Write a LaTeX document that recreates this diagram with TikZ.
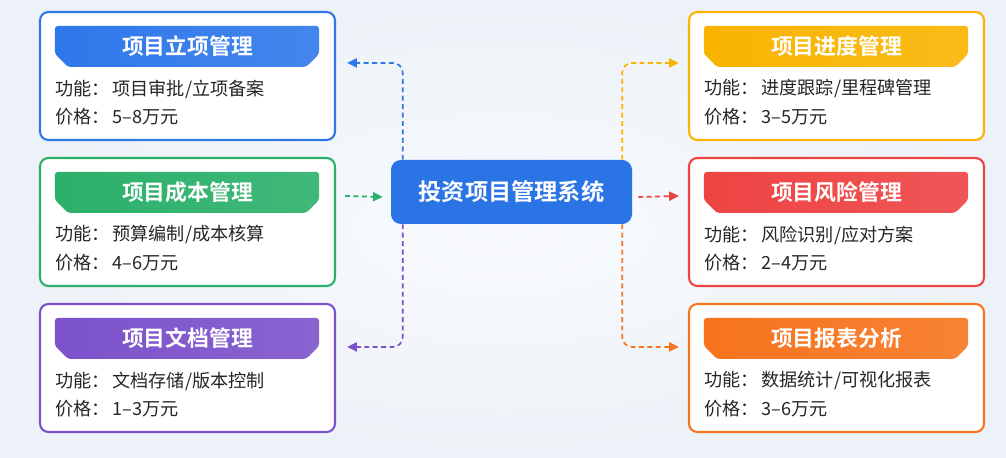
\documentclass[tikz,border=0pt]{standalone}
\usepackage{fontspec}
\setmainfont{Noto Sans CJK SC}[BoldFont={Noto Sans CJK SC Bold}]
\usetikzlibrary{calc,arrows.meta}

\definecolor{bgTint}{HTML}{EDF2F8}
\definecolor{bgInner}{HTML}{F8FAFD}
\definecolor{hubBlue}{HTML}{2B74E6}
\definecolor{cardBlue}{HTML}{2F78EA}
\definecolor{cardGreen}{HTML}{2BB06A}
\definecolor{cardPurple}{HTML}{7C52CB}
\definecolor{cardYellow}{HTML}{F9B400}
\definecolor{cardRed}{HTML}{EE4343}
\definecolor{cardOrange}{HTML}{F7741E}
\definecolor{bodyText}{HTML}{262626}

\tikzset{
	card/.style={draw, line width=1.5pt, fill=white, rounded corners=6pt,
		minimum width=295*0.025cm, minimum height=128*0.025cm, inner sep=0pt},
	cardtitle/.style={text=white, inner sep=0pt, font=\fontsize{15.5}{18}\selectfont\bfseries},
	cardtext/.style={anchor=west, inner sep=0pt, text=bodyText, font=\fontsize{12.9}{15}\selectfont},
	hubbox/.style={fill=hubBlue, rounded corners=7pt, text=white,
		minimum width=241*0.025cm, minimum height=64*0.025cm,
		font=\fontsize{16.5}{19}\selectfont\bfseries},
	link/.style={line width=1.2pt, dash pattern=on 3.5pt off 2.5pt, rounded corners=7pt,
		-{Triangle[length=7pt,width=6.5pt]}}
}

% name, centre, colour, title, function, price
\newcommand{\infoCard}[6]{
	\node[card, draw=#3] (#1) at #2 {};
	\shade[left color=#3, right color=#3!90!white, rounded corners=2pt]
		($(#1.north west)+(16,15)$) -- ($(#1.north east)+(-17,15)$)
		-- ($(#1.north east)+(-17,43)$) -- ($(#1.north east)+(-30,56)$)
		-- ($(#1.north west)+(29,56)$) -- ($(#1.north west)+(16,43)$) -- cycle;
	\node[cardtitle] (#1-title) at ($(#1.north)+(0,35.5)$) {#4};
	\node[cardtext] (#1-func) at ($(#1.north west)+(16,78)$) {功能：\hspace{2pt}#5};
	\node[cardtext] (#1-price) at ($(#1.north west)+(16,106)$) {价格：\hspace{2pt}#6};
}

\begin{document}
\begin{tikzpicture}[x=0.025cm, y=-0.025cm]
	% Background
	\shade[inner color=bgInner, outer color=bgTint] (0,0) rectangle (1006,458);
	\useasboundingbox (0,0) rectangle (1006,458);

	% Centre
	\node[hubbox] (hub) at (511.5,192) {投资项目管理系统};

	% Left column
	\infoCard{idea}{(187.5,76)}{cardBlue}{项目立项管理}{项目审批/立项备案}{5–8万元}
	\infoCard{cost}{(187.5,222)}{cardGreen}{项目成本管理}{预算编制/成本核算}{4–6万元}
	\infoCard{docs}{(187.5,368)}{cardPurple}{项目文档管理}{文档存储/版本控制}{1–3万元}

	% Right column
	\infoCard{sched}{(836.5,76)}{cardYellow}{项目进度管理}{进度跟踪/里程碑管理}{3–5万元}
	\infoCard{risk}{(836.5,222)}{cardRed}{项目风险管理}{风险识别/应对方案}{2–4万元}
	\infoCard{report}{(836.5,368)}{cardOrange}{项目报表分析}{数据统计/可视化报表}{3–6万元}

	% Connectors
	\coordinate (idea-in) at ($(idea.north east)+(11,52)$);
	\coordinate (docs-in) at ($(docs.north east)+(11,44)$);
	\coordinate (cost-out) at ($(cost.north east)+(9,39)$);
	\coordinate (hub-in) at ($(hub.west)+(-8,5)$);
	\coordinate (hub-out) at ($(hub.east)+(6,5)$);
	\coordinate (sched-in) at ($(sched.north west)+(-9,52)$);
	\coordinate (risk-in) at ($(risk.north west)+(-9,39)$);
	\coordinate (report-in) at ($(report.north west)+(-9,44)$);

	\draw[link, cardBlue] ($(hub.north west)+(12,0)$) |- (idea-in);
	\draw[link, cardGreen] (cost-out) -- (hub-in);
	\draw[link, cardPurple] ($(hub.south west)+(12,0)$) |- (docs-in);
	\draw[link, cardYellow] ($(hub.north east)+(-10,0)$) |- (sched-in);
	\draw[link, cardRed] (hub-out) -- (risk-in);
	\draw[link, cardOrange] ($(hub.south east)+(-10,0)$) |- (report-in);
\end{tikzpicture}
\end{document}
